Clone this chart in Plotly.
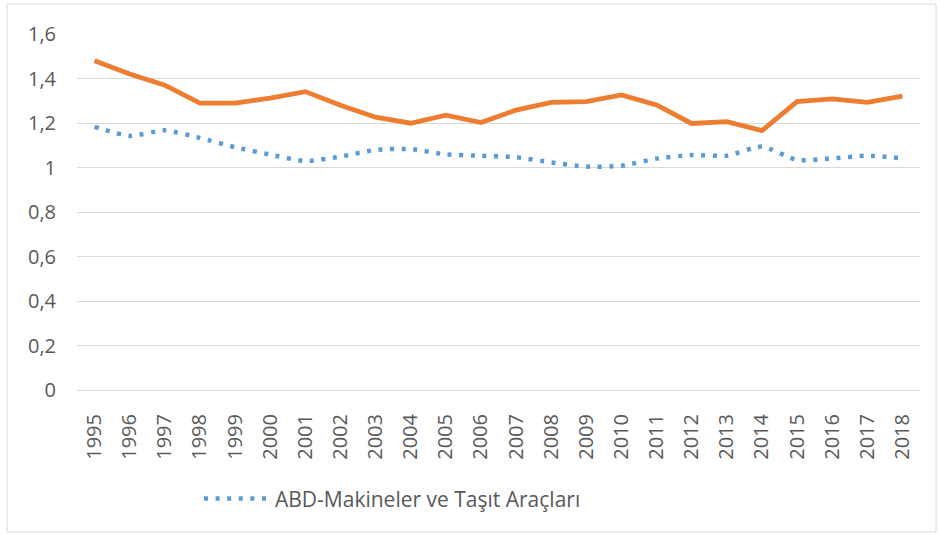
import plotly.graph_objects as go

years = [str(y) for y in range(1995, 2019)]
orange_values = [1.48, 1.42, 1.37, 1.289, 1.289, 1.312, 1.341, 1.28, 1.226, 1.199,
                 1.235, 1.202, 1.258, 1.293, 1.296, 1.326, 1.281, 1.198, 1.206, 1.166,
                 1.296, 1.308, 1.293, 1.321]
blue_values = [1.183, 1.142, 1.167, 1.133, 1.091, 1.058, 1.029, 1.049, 1.079, 1.083,
               1.059, 1.053, 1.046, 1.023, 1.004, 1.008, 1.040, 1.056, 1.053, 1.094,
               1.034, 1.041, 1.053, 1.041]
blue_name = "ABD-Makineler ve Taşıt Araçları"
y_ticks = [0, 0.2, 0.4, 0.6, 0.8, 1, 1.2, 1.4, 1.6]

FONT = "Open Sans"
TXT = "#595959"

fig = go.Figure()
fig.add_trace(go.Scatter(
    x=years, y=orange_values, mode="lines", showlegend=False,
    line=dict(color="#ED7D31", width=4.8), hoverinfo="skip"))
fig.add_trace(go.Scatter(
    x=years, y=blue_values, mode="lines", name=blue_name,
    line=dict(color="#5B9BD5", width=4.5, dash="4px,7.6px", shape="spline", smoothing=0.6)))

fig.update_layout(
    width=940, height=534,
    margin=dict(l=77, r=20, t=34, b=144),
    paper_bgcolor="white", plot_bgcolor="white",
    separators=", ",
    font=dict(family=FONT, size=20, color=TXT),
    legend=dict(orientation="h", x=0.1447, xanchor="left", y=-0.306, yanchor="middle",
                itemwidth=66, font=dict(family=FONT, size=21, color=TXT)),
    xaxis=dict(type="category", range=[-0.5, 23.5], tickangle=-90, showgrid=False,
               showline=True, automargin=False,
               linecolor="#D9D9D9", linewidth=1, ticks="", ticklabelstandoff=15,
               tickfont=dict(family=FONT, size=20, color=TXT)),
    yaxis=dict(range=[0, 1.6], tickvals=y_ticks, showgrid=True, gridcolor="#D9D9D9",
               gridwidth=1, zeroline=True, zerolinecolor="#D9D9D9", zerolinewidth=1,
               showline=False, ticks="", ticklabelstandoff=20, automargin=False,
               tickfont=dict(family=FONT, size=20, color=TXT)),
    shapes=[dict(type="rect", xref="paper", yref="paper",
                 x0=-0.083, x1=1.019, y0=-0.399, y1=1.084,
                 line=dict(color="#D9D9D9", width=1), fillcolor="rgba(0,0,0,0)")],
)

fig.write_html("out.html", config={"displayModeBar": False},
               post_script="document.body.style.margin='0';")
